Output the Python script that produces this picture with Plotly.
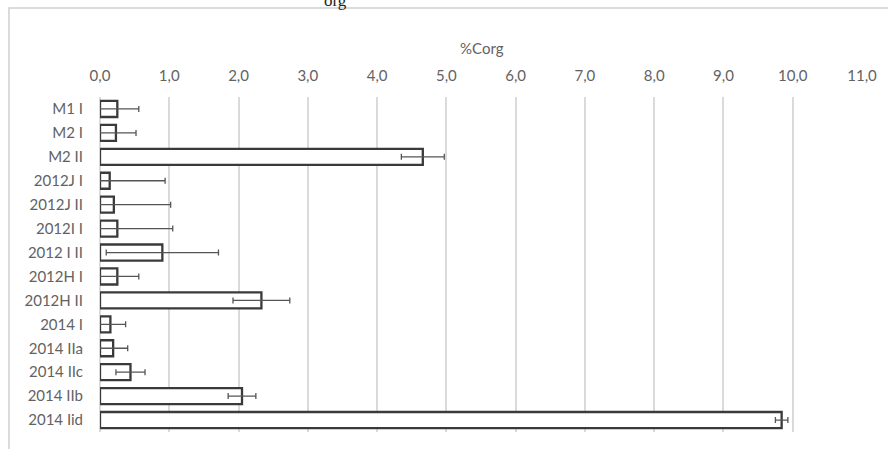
import plotly.graph_objects as go

categories = ["M1 I", "M2 I", "M2 II", "2012J I", "2012J II", "2012I I", "2012 I II",
              "2012H I", "2012H II", "2014 I", "2014 IIa", "2014 IIc", "2014 IIb", "2014 Iid"]
corg_mean = [0.25, 0.23, 4.66, 0.14, 0.20, 0.25, 0.90, 0.25, 2.33, 0.15, 0.19, 0.44, 2.05, 9.84]
corg_err = [0.31, 0.29, 0.31, 0.80, 0.82, 0.80, 0.81, 0.31, 0.41, 0.22, 0.21, 0.21, 0.20, 0.09]
x_ticks = [0, 1, 2, 3, 4, 5, 6, 7, 8, 9, 10, 11]
axis_title = "%Corg"

W, H = 888, 449
ML, MR, MT, MB = 100, 26, 97, 17
pw, ph = W - ML - MR, H - MT - MB

def px_to_paper_x(px):
    return (px - ML) / pw

def px_to_paper_y(py):
    return (H - MB - py) / ph

fig = go.Figure()
fig.add_trace(go.Bar(
    y=categories, x=corg_mean, orientation="h",
    marker=dict(color="white", line=dict(color="#3a3a3a", width=2.3)),
    error_x=dict(type="data", array=corg_err, symmetric=True,
                 color="#555555", thickness=1.3, width=3),
    showlegend=False,
))

label_font = dict(family="Lato, 'Open Sans', sans-serif", size=15, color="#626262")

fig.update_layout(
    width=W, height=H,
    margin=dict(l=ML, r=MR, t=MT, b=MB),
    paper_bgcolor="white", plot_bgcolor="white",
    separators=",.",
    bargap=0.33,
    xaxis=dict(side="top", range=[0, 11], tickvals=x_ticks, tickformat=".1f",
               showgrid=True, gridcolor="#dadada", gridwidth=1.5,
               zeroline=True, zerolinecolor="#dadada", zerolinewidth=1.5,
               ticks="", tickfont=label_font, ticklabelstandoff=12,
               showline=False, fixedrange=True),
    yaxis=dict(categoryorder="array", categoryarray=categories, autorange="reversed",
               tickfont=label_font, ticks="", showgrid=False, zeroline=False,
               ticklabelstandoff=16, showline=False, fixedrange=True),
    shapes=[dict(type="rect", xref="paper", yref="paper",
                 x0=px_to_paper_x(9), x1=px_to_paper_x(W + 600),
                 y0=px_to_paper_y(H + 50), y1=px_to_paper_y(8),
                 line=dict(color="#cfcfcf", width=1.5), fillcolor="rgba(0,0,0,0)",
                 layer="below")],
    annotations=[
        dict(text=axis_title, xref="paper", yref="paper",
             x=px_to_paper_x(482), y=px_to_paper_y(48), showarrow=False,
             xanchor="center", yanchor="middle", font=label_font),
        dict(text="org", xref="paper", yref="paper",
             x=px_to_paper_x(335), y=px_to_paper_y(0), showarrow=False,
             xanchor="center", yanchor="middle",
             font=dict(family="Liberation Serif, serif", size=17, color="#222222")),
    ],
)

fig.write_html("out.html", config={"displayModeBar": False},
               post_script="document.body.style.margin='0';")
